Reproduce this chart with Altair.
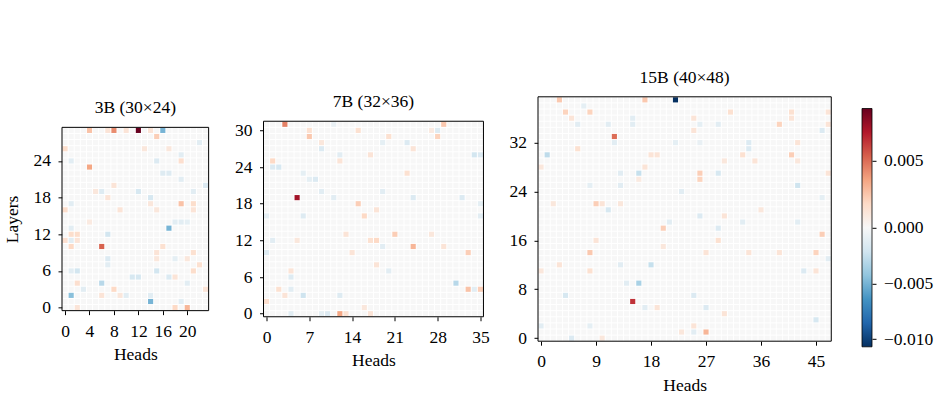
import altair as alt
import pandas as pd

# ---------------- data ----------------
MODEL_TITLES = ["3B (30×24)", "7B (32×36)", "15B (40×48)"]
N_LAYERS = [30, 32, 40]
N_HEADS = [24, 36, 48]
X_TICKS = [[0, 4, 8, 12, 16, 20], [0, 7, 14, 21, 28, 35], [0, 9, 18, 27, 36, 45]]
Y_TICKS = [[0, 6, 12, 18, 24], [0, 6, 12, 18, 24, 30], [0, 8, 16, 24, 32]]
CBAR_TICKS = [-0.010, -0.005, 0.000, 0.005]
VMIN = -0.0107
VMAX = 0.0089

# (head, layer, value) for the cells that stand out from ~0
cells_3b = [
    (12, 29, 0.0089), (8, 29, 0.0042), (4, 29, 0.0026), (7, 29, 0.0012), (10, 29, 0.0012),
    (14, 29, 0.0012), (16, 29, -0.0050), (15, 28, 0.0022), (22, 27, -0.0012), (0, 26, 0.0016),
    (13, 26, 0.0010), (17, 26, 0.0010), (19, 25, -0.0012), (1, 24, -0.0012), (15, 24, -0.0015),
    (19, 24, 0.0015), (4, 23, 0.0035), (16, 22, -0.0014), (17, 22, -0.0014), (19, 21, -0.0012),
    (8, 20, 0.0012), (23, 20, -0.0015), (5, 19, 0.0010), (6, 19, -0.0014), (12, 19, -0.0018),
    (21, 19, -0.0012), (7, 18, 0.0012), (14, 18, -0.0018), (1, 17, -0.0012), (14, 17, 0.0010),
    (19, 17, 0.0026), (21, 17, 0.0016), (0, 16, 0.0016), (9, 16, 0.0012), (15, 16, 0.0010),
    (21, 16, 0.0012), (4, 14, 0.0008), (18, 14, -0.0012), (19, 14, -0.0012), (20, 14, -0.0010),
    (1, 13, -0.0012), (17, 13, -0.0050), (1, 12, 0.0016), (2, 12, 0.0016), (7, 12, -0.0020),
    (0, 11, 0.0015), (1, 11, -0.0012), (2, 11, 0.0012), (1, 10, 0.0018), (6, 10, 0.0053),
    (16, 10, 0.0014), (15, 9, 0.0012), (21, 9, 0.0014), (7, 8, -0.0015), (15, 8, 0.0010),
    (18, 8, -0.0010), (20, 8, 0.0010), (7, 7, -0.0012), (22, 7, 0.0014), (1, 6, -0.0012),
    (2, 6, -0.0020), (15, 6, -0.0020), (21, 6, 0.0016), (11, 5, -0.0018), (12, 5, -0.0018),
    (17, 5, -0.0016), (18, 5, 0.0012), (2, 4, 0.0015), (6, 4, -0.0030), (20, 4, -0.0012),
    (3, 3, -0.0012), (8, 3, 0.0018), (23, 3, 0.0012), (1, 2, -0.0045), (6, 2, 0.0012),
    (9, 2, 0.0010), (10, 2, -0.0012), (14, 2, -0.0012), (14, 1, -0.0050), (19, 1, -0.0012),
    (2, 0, 0.0012), (18, 0, 0.0018), (20, 0, 0.0030),
]

cells_7b = [
    (3, 31, 0.0045), (29, 31, 0.0024), (11, 31, -0.0008), (7, 30, 0.0014), (15, 30, 0.0014),
    (28, 30, -0.0014), (27, 30, 0.0008), (7, 29, 0.0024), (20, 29, 0.0014), (28, 29, 0.0020),
    (9, 28, 0.0010), (23, 28, -0.0015), (19, 28, -0.0010), (9, 27, -0.0015), (24, 27, 0.0012),
    (12, 26, -0.0012), (17, 26, 0.0012), (34, 26, -0.0020), (35, 26, -0.0015), (1, 25, 0.0018),
    (12, 25, 0.0012), (1, 24, -0.0015), (2, 24, -0.0018), (6, 23, -0.0010), (23, 23, 0.0014),
    (8, 22, -0.0015), (7, 22, -0.0010), (9, 20, -0.0012), (19, 20, -0.0012), (5, 19, 0.0075),
    (11, 19, -0.0012), (24, 19, -0.0015), (32, 19, -0.0015), (15, 18, 0.0022), (35, 18, -0.0010),
    (18, 17, 0.0012), (6, 16, -0.0014), (16, 16, 0.0018), (35, 16, -0.0012), (0, 16, -0.0010),
    (21, 13, 0.0022), (13, 13, 0.0012), (27, 13, 0.0010), (17, 12, 0.0014), (18, 12, 0.0018),
    (1, 12, -0.0012), (5, 12, 0.0010), (24, 11, 0.0030), (19, 11, -0.0012), (29, 11, 0.0012),
    (33, 10, 0.0022), (0, 10, -0.0014), (14, 10, 0.0012), (18, 8, 0.0012), (4, 7, 0.0012),
    (20, 7, -0.0012), (4, 6, -0.0014), (31, 5, -0.0030), (2, 4, 0.0014), (4, 4, -0.0012),
    (33, 4, 0.0026), (34, 4, -0.0012), (35, 4, 0.0022), (3, 3, 0.0012), (6, 3, -0.0022),
    (12, 3, -0.0014), (0, 2, 0.0015), (16, 1, 0.0010), (4, 0, -0.0012), (10, 0, -0.0015),
    (9, 0, -0.0010), (12, 0, 0.0035), (13, 0, 0.0014), (17, 0, 0.0012),
]

cells_15b = [
    (3, 39, 0.0024), (17, 39, 0.0024), (22, 39, -0.0107), (7, 38, -0.0010), (4, 37, 0.0020),
    (8, 37, 0.0020), (31, 37, 0.0014), (41, 37, 0.0014), (47, 37, 0.0012), (5, 36, 0.0012),
    (15, 36, -0.0012), (25, 36, 0.0012), (41, 36, 0.0012), (6, 35, -0.0012), (11, 35, -0.0012),
    (15, 35, -0.0012), (26, 35, -0.0010), (29, 35, -0.0012), (39, 35, 0.0020), (47, 35, 0.0012),
    (25, 34, 0.0012), (46, 34, -0.0015), (12, 33, 0.0050), (12, 32, -0.0012), (34, 32, -0.0015),
    (22, 32, -0.0010), (26, 32, -0.0008), (42, 32, 0.0012), (6, 31, 0.0014), (34, 31, -0.0015),
    (1, 30, -0.0028), (18, 30, 0.0012), (19, 30, 0.0012), (33, 30, 0.0014), (41, 30, 0.0022),
    (35, 29, 0.0012), (42, 29, 0.0010), (30, 29, 0.0010), (17, 28, 0.0012), (0, 28, 0.0010),
    (16, 27, -0.0025), (26, 27, 0.0022), (29, 27, -0.0018), (13, 27, -0.0012), (47, 27, 0.0012),
    (26, 26, 0.0020), (16, 26, 0.0008), (42, 25, -0.0022), (13, 25, -0.0012), (8, 25, -0.0010),
    (23, 24, -0.0012), (46, 23, -0.0010), (9, 22, 0.0022), (10, 22, 0.0012), (2, 22, 0.0010),
    (13, 22, 0.0010), (11, 21, -0.0018), (36, 21, 0.0010), (26, 20, -0.0015), (30, 20, 0.0012),
    (21, 19, -0.0012), (33, 19, -0.0012), (42, 19, -0.0012), (20, 18, 0.0022), (29, 18, -0.0015),
    (46, 17, 0.0022), (29, 16, 0.0014), (9, 16, 0.0012), (20, 15, 0.0010), (8, 14, 0.0024),
    (27, 14, 0.0012), (34, 14, 0.0012), (39, 14, 0.0012), (45, 14, 0.0020), (47, 13, -0.0012),
    (18, 12, -0.0025), (13, 12, -0.0012), (3, 12, 0.0012), (8, 11, 0.0014), (43, 11, -0.0015),
    (45, 11, 0.0012), (0, 11, 0.0010), (16, 9, -0.0035), (14, 9, -0.0012), (4, 7, -0.0018),
    (25, 7, -0.0015), (15, 6, 0.0065), (27, 5, -0.0015), (17, 5, -0.0012), (19, 5, 0.0012),
    (30, 4, 0.0012), (45, 3, -0.0018), (0, 2, -0.0012), (8, 2, -0.0010), (25, 2, 0.0012),
    (27, 1, 0.0030), (23, 1, 0.0010), (25, 1, -0.0012), (5, 0, -0.0015), (10, 0, 0.0010),
]

ALL_CELLS = [cells_3b, cells_7b, cells_15b]

# ---------------- style ----------------
FONT = "Liberation Serif"
FS = 17.5
RDBU_R = ["#053061", "#2166ac", "#4393c3", "#92c5de", "#d1e5f0", "#f7f7f7",
          "#fddbc7", "#f4a582", "#d6604d", "#b2182b", "#67001f"]
COLOR_DOMAIN = [VMIN * f for f in (1.0, 0.8, 0.6, 0.4, 0.2)] + [0.0] + \
               [VMAX * f for f in (0.2, 0.4, 0.6, 0.8, 1.0)]
CELL = 6.11          # px per cell
HALF = 0.42          # half cell width in data units, leaving a thin white gap
SPACING = 54.5


def grid_frame(n_layers, n_heads, cells):
    lookup = {(h, l): v for h, l, v in cells}
    rows = [{"head": h, "layer": l, "value": lookup.get((h, l), 0.0)}
            for l in range(n_layers) for h in range(n_heads)]
    return pd.DataFrame(rows)


def heatmap(i, ytitle=None):
    nl, nh = N_LAYERS[i], N_HEADS[i]
    df = grid_frame(nl, nh, ALL_CELLS[i])
    if ytitle:
        yaxis = alt.Axis(values=Y_TICKS[i], format="d", title=ytitle, titlePadding=11.5)
    else:
        yaxis = alt.Axis(values=Y_TICKS[i], format="d", title=None)
    xaxis = alt.Axis(values=X_TICKS[i], format="d", title="Heads")
    xs = alt.Scale(domain=[-0.5, nh - 0.5], nice=False, zero=False)
    ys = alt.Scale(domain=[-0.5, nl - 0.5], nice=False, zero=False)
    cells = alt.Chart(df).transform_calculate(
        x0=f"datum.head - {HALF}", x1=f"datum.head + {HALF}",
        y0=f"datum.layer - {HALF}", y1=f"datum.layer + {HALF}",
    ).mark_rect().encode(
        x=alt.X("x0:Q", scale=xs, axis=xaxis),
        x2="x1:Q",
        y=alt.Y("y0:Q", scale=ys, axis=yaxis),
        y2="y1:Q",
        color=alt.Color("value:Q", legend=None,
                        scale=alt.Scale(domain=COLOR_DOMAIN, range=RDBU_R, interpolate="rgb")),
    )
    # axes frame drawn on top of the cells (same scales and axes as the cells)
    frame = alt.Chart(pd.DataFrame({"k": [0]})).mark_rect(
        fillOpacity=0, stroke="black", strokeWidth=1
    ).encode(
        x=alt.X(datum=-0.5, type="quantitative", scale=xs, axis=xaxis),
        x2=alt.X2(datum=nh - 0.5),
        y=alt.Y(datum=-0.5, type="quantitative", scale=ys, axis=yaxis),
        y2=alt.Y2(datum=nl - 0.5),
    )
    return cells, frame


c1, f1 = heatmap(0, "Layers")
c2, f2 = heatmap(1)
c3, f3 = heatmap(2)
p1 = alt.layer(c1, f1).properties(width=N_HEADS[0] * CELL, height=N_LAYERS[0] * CELL,
                                  title=MODEL_TITLES[0])
p2 = alt.layer(c2, f2).properties(width=N_HEADS[1] * CELL, height=N_LAYERS[1] * CELL,
                                  title=MODEL_TITLES[1])

# colorbar (two-slope: zero sits at the middle of the bar), placed right of the 15B panel
P3_W = N_HEADS[2] * CELL
CB_X0, CB_W = 324, 10
CB_TOP, CB_BOTTOM = 11.7, 250.0
cb_df = pd.DataFrame({"lo": [VMIN], "hi": [VMAX]})
colorbar = alt.Chart(cb_df).mark_rect(
    fill=alt.Gradient(
        gradient="linear",
        stops=[alt.GradientStop(color=c, offset=k / 10) for k, c in enumerate(RDBU_R)],
        x1=0, x2=0, y1=1, y2=0,
    ),
    stroke="black", strokeWidth=0.8,
).encode(
    x=alt.value(CB_X0), x2=alt.value(CB_X0 + CB_W),
    y=alt.Y("lo:Q",
            scale=alt.Scale(domain=[VMIN, 0.0, VMAX],
                            range=[CB_BOTTOM, (CB_TOP + CB_BOTTOM) / 2, CB_TOP],
                            nice=False, zero=False),
            axis=alt.Axis(orient="right", values=CBAR_TICKS, format=".3f", title=None,
                          offset=CB_X0 + CB_W - P3_W)),
    y2="hi:Q",
)

p3 = alt.layer(alt.layer(c3, f3), colorbar).resolve_scale(y="independent").properties(
    width=P3_W, height=N_LAYERS[2] * CELL, title=MODEL_TITLES[2])

chart = alt.hconcat(p1, p2, p3, spacing=SPACING, bounds="flush", center=True).resolve_scale(
    x="independent", y="independent", color="independent"
).configure_view(
    stroke=None
).configure_axis(
    domain=False, grid=False, ticks=True, tickColor="black", tickSize=4, tickWidth=1,
    labelFont=FONT, labelFontSize=FS, labelColor="black", labelPadding=7.5,
    titleFont=FONT, titleFontSize=FS, titleFontWeight="normal", titleColor="black",
).configure_axisX(
    titlePadding=6
).configure_title(
    font=FONT, fontSize=FS, fontWeight="normal", color="black", offset=10
).properties(
    padding={"left": 3, "top": 68.5, "right": 5, "bottom": 5}
)

chart.save("out.html", embed_options={"renderer": "svg", "actions": False})
